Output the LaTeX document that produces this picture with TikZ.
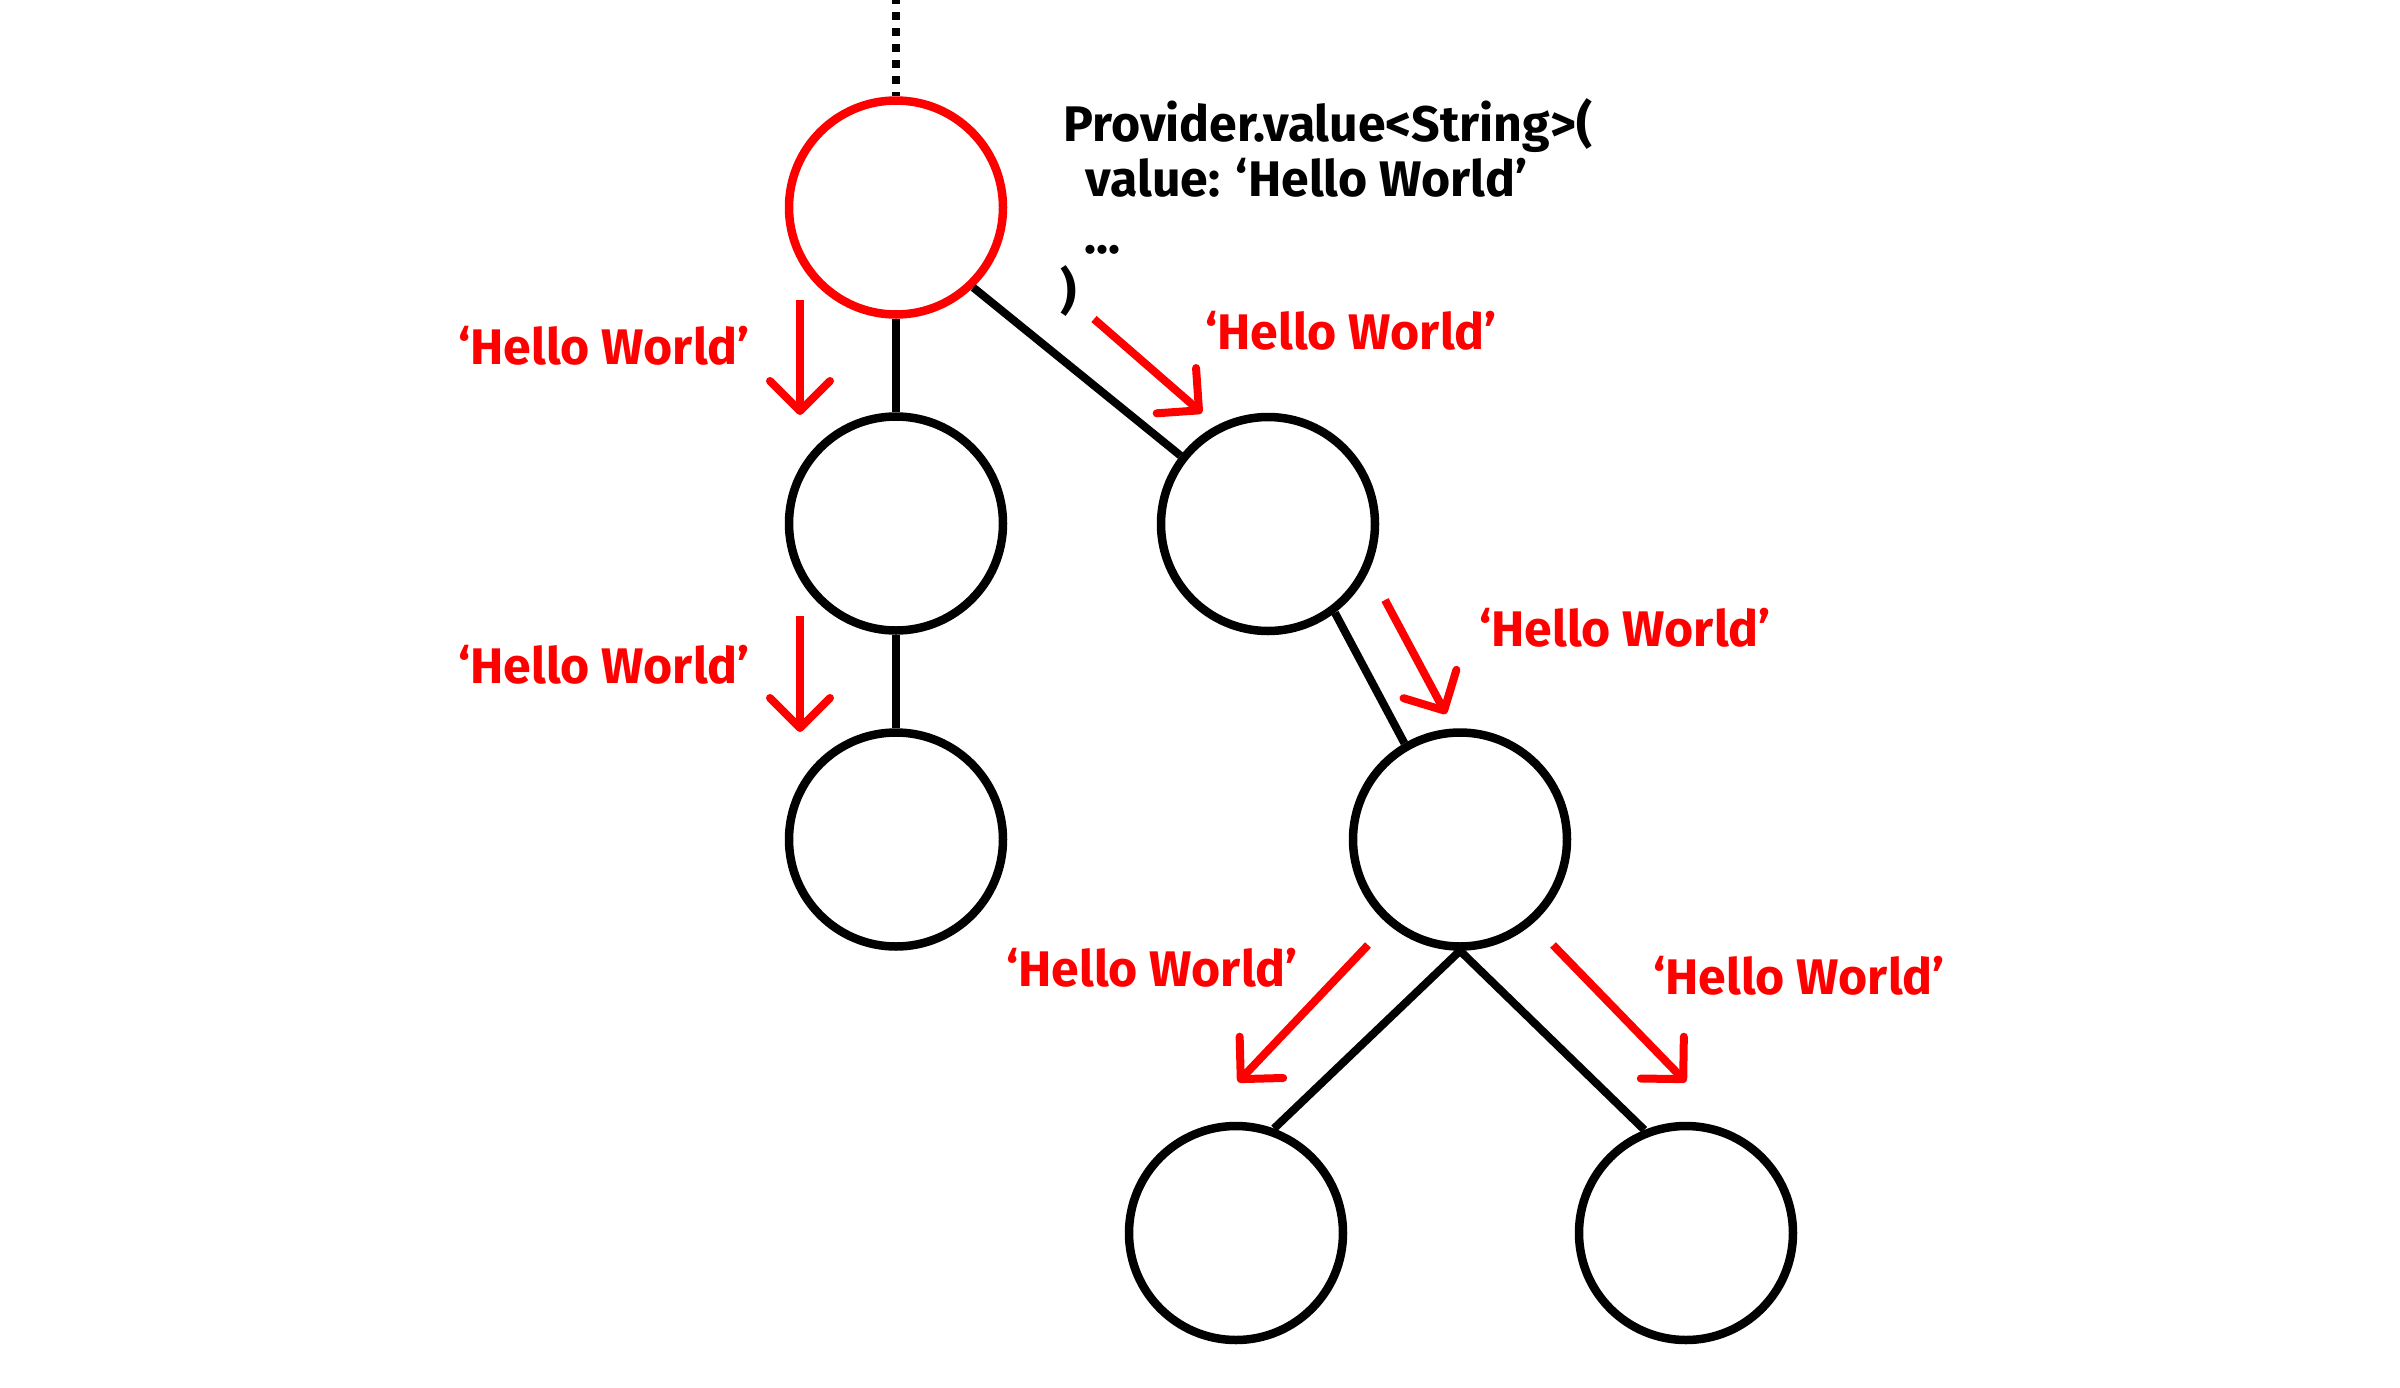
\documentclass[tikz,border=0pt]{standalone}
\usepackage{fontspec}
\setmainfont{Fira Sans}
\usetikzlibrary{arrows.meta}
\definecolor{hwred}{RGB}{255,0,0}
\tikzset{
  treenode/.style={circle, draw=black, line width=2.55pt, minimum size=64.2pt, inner sep=0pt},
  rootnode/.style={treenode, draw=hwred},
  edge/.style={line width=2.4pt, draw=black},
  flow/.style={line width=2.4pt, draw=hwred, -{Straight Barb[length=9pt,width=18pt,round]}},
  lbl/.style={text=hwred, font=\bfseries\fontsize{15}{18}\selectfont, anchor=base, inner sep=0pt},
  code/.style={text=black, font=\bfseries\fontsize{15}{18}\selectfont, anchor=base west, inner sep=0pt}
}
\begin{document}
\begin{tikzpicture}[x=0.3pt,y=-0.3pt]
\useasboundingbox[fill=white] (0,0) rectangle (2400,1388);
% nodes
\node[rootnode] (root) at (896,207.5) {};
\node[treenode] (lc)  at (896,523.5) {};
\node[treenode] (llc) at (896,839.5) {};
\node[treenode] (rc)  at (1268,524) {};
\node[treenode] (rgc) at (1460,839.5) {};
\node[treenode] (bl)  at (1236,1233) {};
\node[treenode] (br)  at (1686,1233) {};
\coordinate (top) at (896,0);
% connectors
\draw[line width=2.4pt, dash pattern=on 2.4pt off 2.4pt, dash phase=1.2pt] (top) -- (root.north);
\draw[edge] (root.south) -- (lc.north);
\draw[edge] (lc.south) -- (llc.north);
\draw[edge] (root.-46) -- (rc.142);
\draw[edge] (rc.-53) -- (rgc.120);
\draw[edge] (rgc.south) -- (bl.70);
\draw[edge] (rgc.south) -- (br.112);
% flow arrows
\coordinate (a1s) at (800,300);  \coordinate (a1e) at (800,415);
\coordinate (a2s) at (800,616);  \coordinate (a2e) at (800,732);
\coordinate (a3s) at (1094,319); \coordinate (a3e) at (1202,413);
\coordinate (a4s) at (1385,600); \coordinate (a4e) at (1446,714);
\coordinate (a5s) at (1368,945); \coordinate (a5e) at (1238,1082);
\coordinate (a6s) at (1553,945); \coordinate (a6e) at (1686,1082);
\draw[flow] (a1s) -- (a1e);
\draw[flow] (a2s) -- (a2e);
\draw[flow] (a3s) -- (a3e);
\draw[flow] (a4s) -- (a4e);
\draw[flow] (a5s) -- (a5e);
\draw[flow] (a6s) -- (a6e);
% labels
\node[lbl] (l1) at (604,364) {‘Hello World’};
\node[lbl] (l2) at (604,683) {‘Hello World’};
\node[lbl] (l3) at (1351,349) {‘Hello World’};
\node[lbl] (l4) at (1625,646) {‘Hello World’};
\node[lbl] (l5) at (1152,986) {‘Hello World’};
\node[lbl] (l6) at (1799,994) {‘Hello World’};
% code
\node[code] (c1) at (1063,141) {Provider.value<String>(};
\node[code] (c2) at (1085,196) {value: ‘Hello World’};
\node[code] (c3) at (1084,253) {...};
\node[code] (c4) at (1060,308) {)};
\end{tikzpicture}
\end{document}
